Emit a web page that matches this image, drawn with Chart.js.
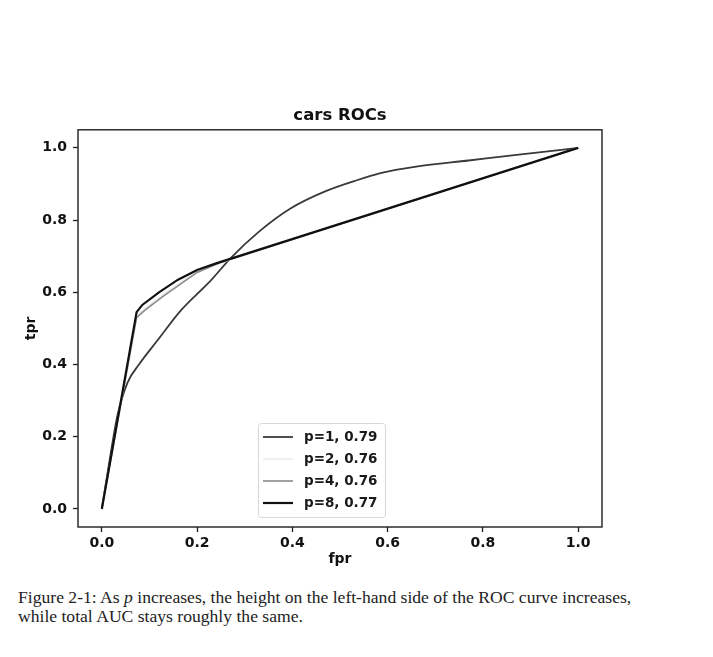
<!DOCTYPE html>
<html>
<head>
<meta charset="utf-8">
<script src="https://cdn.jsdelivr.net/npm/chart.js@4.4.1/dist/chart.umd.min.js"></script>
<style>
  body { margin: 0; background: #fff; }
  #wrap { position: relative; width: 713px; height: 657px; }
  #rocChart { position: absolute; left: 0; top: 0; }
  #caption {
    position: absolute; left: 18px; top: 588px; width: 690px;
    font-family: "Liberation Serif", serif; font-size: 17.6px; line-height: 19px;
    color: #222;
  }
</style>
</head>
<body>
<div id="wrap">
  <canvas id="rocChart" width="713" height="570"></canvas>
  <div id="caption">Figure 2-1: As <i>p</i> increases, the height on the left-hand side of the ROC curve increases,<br>while total AUC stays roughly the same.</div>
</div>
<script>
// Dữ liệu
const seriesLabels = ['p=1, 0.79', 'p=2, 0.76', 'p=4, 0.76', 'p=8, 0.77'];
const fprP1 = [0, 0.02, 0.033, 0.054, 0.078, 0.117, 0.166, 0.229, 0.27, 0.33, 0.396, 0.47, 0.53, 0.585, 0.66, 0.77, 0.88, 1.0];
const tprP1 = [0, 0.165, 0.26, 0.35, 0.40, 0.467, 0.55, 0.633, 0.694, 0.768, 0.832, 0.88, 0.908, 0.93, 0.948, 0.965, 0.982, 1.0];
const fprP2 = [0, 0.072, 0.09, 0.14, 0.2, 0.26, 1.0];
const tprP2 = [0, 0.535, 0.555, 0.605, 0.658, 0.686, 1.0];
const fprP4 = [0, 0.073, 0.09, 0.13, 0.2, 0.25, 1.0];
const tprP4 = [0, 0.53, 0.55, 0.59, 0.655, 0.683, 1.0];
const fprP8 = [0, 0.073, 0.085, 0.12, 0.16, 0.2, 0.24, 1.0];
const tprP8 = [0, 0.545, 0.565, 0.6, 0.635, 0.662, 0.68, 1.0];
const tickValues = [0, 0.2, 0.4, 0.6, 0.8, 1.0];

const lineColors = ['#3a3a3a', '#ececec', '#8a8a8a', '#111111'];
const lineWidths = [1.8, 1.6, 1.6, 2.2];

const fprAll = [fprP1, fprP2, fprP4, fprP8];
const tprAll = [tprP1, tprP2, tprP4, tprP8];

const datasets = seriesLabels.map((label, i) => ({
  label: label,
  data: fprAll[i].map((x, j) => ({ x: x, y: tprAll[i][j] })),
  showLine: true,
  borderColor: lineColors[i],
  backgroundColor: lineColors[i],
  borderWidth: lineWidths[i],
  pointRadius: 0,
  tension: i === 0 ? 0.35 : 0,
  cubicInterpolationMode: i === 0 ? 'monotone' : 'default',
  order: seriesLabels.length - i
}));

const tickFont = { family: 'DejaVu Sans', size: 14, weight: 'bold' };
const axisColor = '#1e1e1e';

// khung 4 cạnh kiểu matplotlib
const framePlugin = {
  id: 'frame',
  afterDatasetsDraw(chart) {
    const a = chart.chartArea, c = chart.ctx;
    c.save();
    c.strokeStyle = axisColor;
    c.lineWidth = 1.4;
    c.strokeRect(a.left, a.top, a.right - a.left, a.bottom - a.top);
    c.restore();
  }
};

// chú thích đặt trong vùng vẽ
const legendPlugin = {
  id: 'innerLegend',
  afterDraw(chart) {
    const a = chart.chartArea, c = chart.ctx;
    const left = a.left + 180, top = a.bottom - 104, w = 127, h = 94;
    c.save();
    c.fillStyle = 'rgba(255,255,255,0.8)';
    c.strokeStyle = '#d8d8d8';
    c.lineWidth = 1;
    c.beginPath();
    c.roundRect(left + 0.5, top + 0.5, w, h, 3);
    c.fill();
    c.stroke();
    c.font = 'bold 13.5px "DejaVu Sans"';
    c.textBaseline = 'middle';
    chart.data.datasets.forEach((ds, i) => {
      const y = top + 14 + i * 22;
      c.strokeStyle = ds.borderColor;
      c.lineWidth = ds.borderWidth;
      c.beginPath();
      c.moveTo(left + 5, y);
      c.lineTo(left + 35, y);
      c.stroke();
      c.fillStyle = '#1a1a1a';
      c.fillText(ds.label, left + 46, y);
    });
    c.restore();
  }
};

function fixedTicks(scale) {
  scale.ticks = tickValues.map(v => ({ value: v }));
}

new Chart(document.getElementById('rocChart'), {
  type: 'scatter',
  data: { datasets: datasets },
  options: {
    responsive: false,
    animation: false,
    devicePixelRatio: 1,
    layout: { padding: { left: 19, right: 111, top: 0, bottom: 0 } },
    plugins: {
      legend: { display: false },
      tooltip: { enabled: false },
      title: {
        display: true,
        text: 'cars ROCs',
        fullSize: false,
        color: '#111',
        font: { family: 'DejaVu Sans', size: 16.5, weight: 'bold' },
        padding: { top: 106, bottom: 4 }
      }
    },
    scales: {
      x: {
        type: 'linear',
        min: -0.05,
        max: 1.05,
        afterBuildTicks: fixedTicks,
        afterFit(scale) { scale.height = 43; },
        border: { display: false },
        grid: { drawOnChartArea: false, drawTicks: true, tickLength: 5, tickColor: axisColor, tickWidth: 1.3 },
        ticks: { color: '#111', font: tickFont, padding: 3, maxRotation: 0, callback: v => v.toFixed(1) },
        title: { display: true, text: 'fpr', color: '#111', font: tickFont, padding: { top: 2, bottom: 2 } }
      },
      y: {
        type: 'linear',
        min: -0.05,
        max: 1.05,
        afterBuildTicks: fixedTicks,
        afterFit(scale) { scale.width = 59; },
        border: { display: false },
        grid: { drawOnChartArea: false, drawTicks: true, tickLength: 5, tickColor: axisColor, tickWidth: 1.3 },
        ticks: { color: '#111', font: tickFont, padding: 6, callback: v => v.toFixed(1) },
        title: { display: true, text: 'tpr', color: '#111', font: tickFont, padding: { top: 4, bottom: 2 } }
      }
    }
  },
  plugins: [framePlugin, legendPlugin]
});
</script>
</body>
</html>
